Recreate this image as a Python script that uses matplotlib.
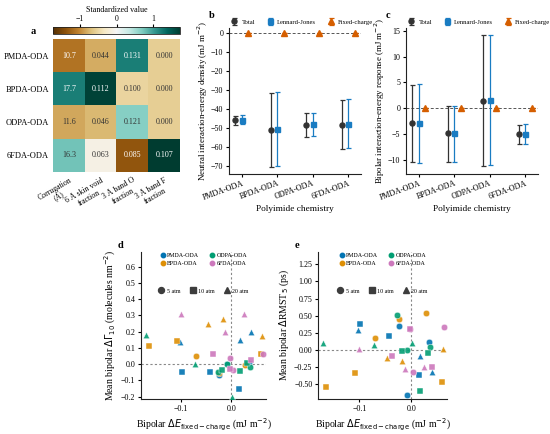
import numpy as np
import matplotlib
matplotlib.use("Agg")
import matplotlib.pyplot as plt
from matplotlib.lines import Line2D

plt.rcParams['font.family'] = ['Liberation Serif', 'DejaVu Serif']
plt.rcParams['axes.linewidth'] = 0.8
plt.rcParams['xtick.major.width'] = 0.8
plt.rcParams['ytick.major.width'] = 0.8
plt.rcParams['xtick.major.size'] = 2.5
plt.rcParams['ytick.major.size'] = 2.5
plt.rcParams['xtick.labelsize'] = 5.8
plt.rcParams['ytick.labelsize'] = 5.8
plt.rcParams['axes.labelsize'] = 6.7
plt.rcParams['axes.edgecolor'] = '#222222'

# ---------------- data ----------------
polymers = ["PMDA-ODA", "BPDA-ODA", "ODPA-ODA", "6FDA-ODA"]
heat_cols = ["Corrugation\n(Å)", "6 Å skin void\nfraction", "3 Å band O\nfraction", "3 Å band F\nfraction"]
corrugation = [10.7, 17.7, 11.6, 16.3]
skin_void = [0.044, 0.112, 0.046, 0.063]
band_O = [0.131, 0.100, 0.121, 0.085]
band_F = [0.000, 0.000, 0.000, 0.107]
heat_fmt = ["{:.1f}", "{:.3f}", "{:.3f}", "{:.3f}"]

# panel b: neutral interaction-energy density
total_b = [-46.0, -50.9, -48.5, -48.3]
total_b_lo = [-48.4, -70.4, -54.6, -61.0]
total_b_hi = [-43.9, -31.3, -42.3, -35.2]
lj_b = [-45.6, -50.4, -48.1, -47.7]
lj_b_lo = [-48.1, -69.8, -54.1, -60.6]
lj_b_hi = [-43.1, -31.0, -41.9, -34.7]
fc_b = [0.0, 0.0, 0.0, 0.0]

# panel c: bipolar interaction-energy response
total_c = [-2.9, -4.9, 1.4, -5.0]
total_c_lo = [-10.4, -10.4, -11.3, -6.9]
total_c_hi = [4.5, 0.5, 14.2, -3.2]
lj_c = [-2.9, -4.9, 1.5, -5.0]
lj_c_lo = [-10.6, -10.4, -11.0, -6.9]
lj_c_hi = [4.8, 0.5, 14.2, -3.1]
fc_c = [0.0, 0.0, 0.0, 0.0]

# panels d/e: per polymer, per pressure, three points
pressures = ["5 atm", "10 atm", "20 atm"]
dE = {
    "PMDA-ODA": [[-0.024, 0.035, -0.009], [-0.098, -0.042, 0.015], [-0.103, 0.017, 0.040]],
    "BPDA-ODA": [[-0.024, -0.070, 0.028], [-0.165, -0.108, 0.060], [-0.046, -0.017, 0.062]],
    "ODPA-ODA": [[-0.027, 0.037, -0.008], [-0.018, 0.017, 0.032], [-0.170, -0.072, 0.002]],
    "6FDA-ODA": [[0.064, 0.003, -0.003], [-0.037, -0.002, 0.040], [-0.100, -0.012, 0.025]],
}
dGamma = {
    "PMDA-ODA": [[-0.065, 0.005, 0.000], [-0.050, -0.050, -0.150], [0.135, 0.150, 0.200]],
    "BPDA-ODA": [[-0.055, 0.050, -0.005], [0.110, 0.145, 0.065], [0.250, 0.280, 0.175]],
    "ODPA-ODA": [[-0.050, -0.015, 0.002], [-0.035, -0.040, 0.005], [0.180, 0.000, -0.200]],
    "6FDA-ODA": [[0.060, -0.035, 0.040], [0.065, -0.030, 0.025], [0.310, 0.200, 0.310]],
}
dRMST = {
    "PMDA-ODA": [[0.35, 0.12, -0.65], [0.38, 0.20, -0.37], [0.29, -0.08, -0.32]],
    "BPDA-ODA": [[0.45, 0.17, 0.54], [-0.54, -0.33, -0.46], [-0.12, -0.16, 0.01]],
    "ODPA-ODA": [[0.51, 0.05, 0.00], [-0.01, -0.60, -0.05], [0.10, 0.08, 0.10]],
    "6FDA-ODA": [[0.33, -0.32, 0.30], [-0.08, 0.30, -0.24], [0.01, -0.28, -0.24]],
}

poly_colors = ["#0173b2", "#de8f05", "#029e73", "#cc78bc"]
shape_markers = ["o", "s", "^"]
c_total = "#333333"
c_lj = "#1a7cc2"
c_fc = "#d55e00"

W, H = 550, 434
fig = plt.figure(figsize=(W / 100, H / 100), dpi=100)

def px(l, t, r, b):
    return [l / W, 1 - b / H, (r - l) / W, (b - t) / H]

# ---------------- panel a: heatmap ----------------
axa = fig.add_axes(px(53, 39, 180, 172))
raw = np.array([corrugation, skin_void, band_O, band_F]).T
z = (raw - raw.mean(axis=0)) / raw.std(axis=0)
vmax = np.abs(z).max()
im = axa.imshow(z, cmap="BrBG", vmin=-vmax, vmax=vmax, aspect="auto")
for i in range(4):
    for j in range(4):
        v = z[i, j] / vmax
        col = "white" if abs(v) > 0.5 else "#333333"
        axa.text(j, i, heat_fmt[j].format(raw[i, j]), ha="center", va="center",
                 fontsize=5.8, color=col)
axa.set_xticks(range(4))
axa.set_xticklabels(heat_cols, rotation=30, ha="right", rotation_mode="anchor",
                    fontsize=5.6, multialignment="center")
axa.set_yticks(range(4))
axa.set_yticklabels(polymers, fontsize=6.0)
axa.tick_params(length=0, pad=3)
for s in axa.spines.values():
    s.set_visible(False)

cax = fig.add_axes(px(53, 27, 180, 34))
cb = fig.colorbar(im, cax=cax, orientation="horizontal")
cb.set_ticks([-1, 0, 1])
cax.xaxis.set_ticks_position("top")
cax.xaxis.set_label_position("top")
cb.set_label("Standardized value", fontsize=5.8, labelpad=2)
cax.tick_params(labelsize=5.6, length=2, pad=1)
cb.outline.set_linewidth(0.6)

# ---------------- panels b, c ----------------
xpos = np.arange(4)
off = 0.18

def energy_panel(ax, tot, tlo, thi, lj, llo, lhi, fc):
    ax.axhline(0, color="#555555", ls=(0, (3, 2)), lw=0.7, zorder=0)
    tot = np.array(tot); lj = np.array(lj)
    ax.errorbar(xpos - off, tot, yerr=[tot - np.array(tlo), np.array(thi) - tot],
                fmt="o", color=c_total, ms=3.6, capsize=1.8, elinewidth=0.9,
                capthick=0.9, label="Total")
    ax.errorbar(xpos, lj, yerr=[lj - np.array(llo), np.array(lhi) - lj],
                fmt="s", color=c_lj, ms=3.6, capsize=1.8, elinewidth=0.9,
                capthick=0.9, label="Lennard-Jones")
    ax.errorbar(xpos + off, fc, yerr=[[0.0] * 4, [0.0] * 4], fmt="^", color=c_fc,
                ms=3.8, capsize=1.8, elinewidth=0.9, capthick=0.9, label="Fixed-charge")
    ax.set_xticks(xpos)
    ax.set_xticklabels(polymers, rotation=20, ha="right", rotation_mode="anchor")
    ax.set_xlim(-0.36, 3.36)
    ax.set_xlabel("Polyimide chemistry", labelpad=2)
    for s in ["top", "right"]:
        ax.spines[s].set_visible(False)
    ax.tick_params(pad=1.5)
    ax.legend(loc="lower left", bbox_to_anchor=(-0.015, 1.0), ncol=3, frameon=False,
              fontsize=4.8, handlelength=1.2, handletextpad=0.5, columnspacing=1.6,
              borderaxespad=0.1)

axb = fig.add_axes(px(229, 28, 361, 174))
energy_panel(axb, total_b, total_b_lo, total_b_hi, lj_b, lj_b_lo, lj_b_hi, fc_b)
axb.set_ylim(-74.2, 2.7)
axb.set_yticks([0, -10, -20, -30, -40, -50, -60, -70])
axb.set_ylabel("Neutral interaction-energy density (mJ m$^{-2}$)", fontsize=6.4, labelpad=1)

axc = fig.add_axes(px(406, 28, 538, 174))
energy_panel(axc, total_c, total_c_lo, total_c_hi, lj_c, lj_c_lo, lj_c_hi, fc_c)
axc.set_ylim(-12.8, 15.6)
axc.set_yticks([15, 10, 5, 0, -5, -10])
axc.set_ylabel("Bipolar interaction-energy response (mJ m$^{-2}$)", fontsize=6.4, labelpad=1)

# ---------------- panels d, e ----------------
def scatter_panel(ax, ydict):
    ax.axhline(0, color="#888888", ls=(0, (2, 2)), lw=0.8, zorder=0)
    ax.axvline(0, color="#888888", ls=(0, (2, 2)), lw=0.8, zorder=0)
    for pi, p in enumerate(polymers):
        for k, m in enumerate(shape_markers):
            ax.scatter(dE[p][k], ydict[p][k], marker=m, s=22, color=poly_colors[pi],
                       edgecolor="white", linewidth=0.35, alpha=0.9, zorder=3)
    for s in ["top", "right"]:
        ax.spines[s].set_visible(False)
    ax.set_xlim(-0.18, 0.069)
    ax.set_xticks([-0.1, 0.0])
    ax.set_xticklabels(["\u22120.1", "0.0"])
    ax.set_xlabel(r"Bipolar $\Delta E_{\mathrm{fixed-charge}}$ (mJ m$^{-2}$)",
                  fontsize=7.0, labelpad=3)
    ax.tick_params(pad=1.5)
    h1 = [Line2D([], [], marker="o", ls="", color=c, ms=3.2) for c in poly_colors]
    leg1 = ax.legend(h1, polymers, loc="upper center", bbox_to_anchor=(0.5, 1.03),
                     ncol=2, frameon=False, fontsize=4.3, handletextpad=0.3,
                     columnspacing=1.6, labelspacing=0.5, handlelength=1.0)
    ax.add_artist(leg1)
    h2 = [Line2D([], [], marker=m, ls="", color="#3d3d3d", ms=4.3) for m in shape_markers]
    ax.legend(h2, pressures, loc="center", bbox_to_anchor=(0.5, 0.735), ncol=3,
              frameon=False, fontsize=4.3, handletextpad=0.4, columnspacing=1.6,
              handlelength=1.0)

axd = fig.add_axes(px(141, 252, 266, 399))
scatter_panel(axd, dGamma)
axd.set_ylim(-0.214, 0.69)
axd.set_yticks([-0.2, -0.1, 0.0, 0.1, 0.2, 0.3, 0.4, 0.5, 0.6])
axd.set_ylabel(r"Mean bipolar $\Delta\Gamma_{10}$ (molecules nm$^{-2}$)", fontsize=7.0, labelpad=2)

axe = fig.add_axes(px(318, 252, 447, 399))
scatter_panel(axe, dRMST)
axe.set_ylim(-0.714, 1.43)
axe.set_yticks([-0.5, -0.25, 0.0, 0.25, 0.5, 0.75, 1.0, 1.25])
axe.set_ylabel(r"Mean bipolar $\Delta$RMST$_5$ (ps)", fontsize=7.0, labelpad=2)

# panel letters
for lab, x, y in [("a", 33, 31), ("b", 212, 15), ("c", 388, 15), ("d", 120, 245), ("e", 297, 245)]:
    fig.text(x / W, 1 - y / H, lab, ha="center", va="center", fontsize=7.5, fontweight="bold")

fig.savefig("out.png", dpi=100)
